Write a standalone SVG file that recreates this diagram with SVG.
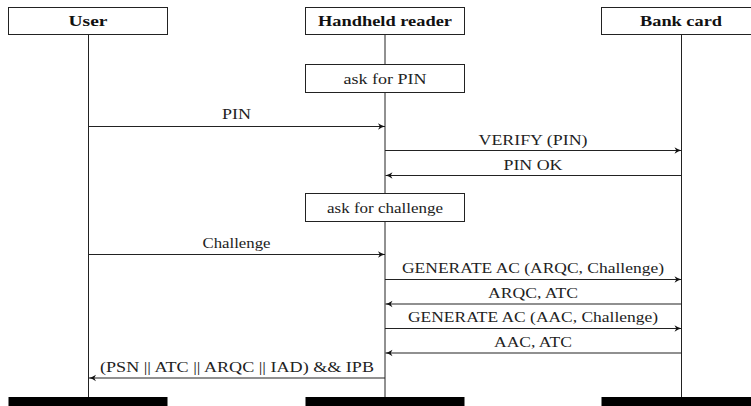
<svg xmlns="http://www.w3.org/2000/svg" width="751" height="406" viewBox="0 0 751 406">
<defs>
<style>
.box{fill:#fff;stroke:#222;stroke-width:1}
.life{stroke:#222;stroke-width:1;fill:none}
.msg{stroke:#222;stroke-width:1.1;fill:none;marker-end:url(#ah)}
.hd{font-weight:bold;font-size:15px;fill:#111;text-anchor:middle}
.lb{font-size:15.5px;fill:#222;text-anchor:middle}
.bar{fill:#000}
</style>
<marker id="ah" viewBox="-8 -4 9 8" markerWidth="9" markerHeight="8" refX="0" refY="0" orient="auto" markerUnits="userSpaceOnUse">
<path d="M-7,-3.2 Q-3,-0.6 0,0 Q-3,0.6 -7,3.2 L-5.2,0 Z" fill="#111"/>
</marker>
</defs>
<g id="lifelines">
<line class="life" x1="88.5" y1="34" x2="88.5" y2="397"/>
<line class="life" x1="385" y1="34" x2="385" y2="397"/>
<line class="life" x1="681.5" y1="34" x2="681.5" y2="397"/>
</g>
<g font-family="Liberation Serif, DejaVu Serif, serif">
<g id="user">
<rect class="box" x="8.5" y="7.5" width="159" height="27"/>
<text class="hd" x="88" y="26" textLength="39" lengthAdjust="spacingAndGlyphs">User</text>
</g>
<g id="reader">
<rect class="box" x="305.5" y="7.5" width="159" height="27"/>
<text class="hd" x="385" y="26" textLength="134" lengthAdjust="spacingAndGlyphs">Handheld reader</text>
</g>
<g id="card">
<rect class="box" x="601.5" y="7.5" width="160" height="27"/>
<text class="hd" x="681" y="26" textLength="82" lengthAdjust="spacingAndGlyphs">Bank card</text>
</g>
<g id="askpin">
<rect class="box" x="305.5" y="64.5" width="159" height="28"/>
<text class="lb" x="385" y="83.5" textLength="83" lengthAdjust="spacingAndGlyphs">ask for PIN</text>
</g>
<g id="askchallenge">
<rect class="box" x="305.5" y="193.5" width="159" height="28"/>
<text class="lb" x="385" y="212.5" textLength="116" lengthAdjust="spacingAndGlyphs">ask for challenge</text>
</g>
<g id="connectors">
<line class="msg" x1="88.5" y1="126.5" x2="385" y2="126.5"/>
<text class="lb" x="236.5" y="119" textLength="29" lengthAdjust="spacingAndGlyphs">PIN</text>
<line class="msg" x1="385" y1="150.5" x2="681.5" y2="150.5"/>
<text class="lb" x="533" y="145" textLength="109" lengthAdjust="spacingAndGlyphs">VERIFY (PIN)</text>
<line class="msg" x1="681.5" y1="175.5" x2="385.5" y2="175.5"/>
<text class="lb" x="533" y="169.5" textLength="59" lengthAdjust="spacingAndGlyphs">PIN OK</text>
<line class="msg" x1="88.5" y1="254.5" x2="385" y2="254.5"/>
<text class="lb" x="236.5" y="248" textLength="68" lengthAdjust="spacingAndGlyphs">Challenge</text>
<line class="msg" x1="385" y1="279.5" x2="681.5" y2="279.5"/>
<text class="lb" x="533" y="273" textLength="262" lengthAdjust="spacingAndGlyphs">GENERATE AC (ARQC, Challenge)</text>
<line class="msg" x1="681.5" y1="304" x2="385.5" y2="304"/>
<text class="lb" x="533" y="297.5" textLength="90" lengthAdjust="spacingAndGlyphs">ARQC, ATC</text>
<line class="msg" x1="385" y1="328.5" x2="681.5" y2="328.5"/>
<text class="lb" x="533" y="322" textLength="250" lengthAdjust="spacingAndGlyphs">GENERATE AC (AAC, Challenge)</text>
<line class="msg" x1="681.5" y1="353" x2="385.5" y2="353"/>
<text class="lb" x="533" y="346.5" textLength="78" lengthAdjust="spacingAndGlyphs">AAC, ATC</text>
<line class="msg" x1="385" y1="378" x2="89" y2="378"/>
<text class="lb" x="237" y="371.5" textLength="274" lengthAdjust="spacingAndGlyphs">(PSN || ATC || ARQC || IAD) &amp;&amp; IPB</text>
</g>
</g>
<g id="bars">
<rect class="bar" x="8.5" y="397" width="159" height="9"/>
<rect class="bar" x="305.5" y="397" width="159" height="9"/>
<rect class="bar" x="601.5" y="397" width="160" height="9"/>
</g>
</svg>
